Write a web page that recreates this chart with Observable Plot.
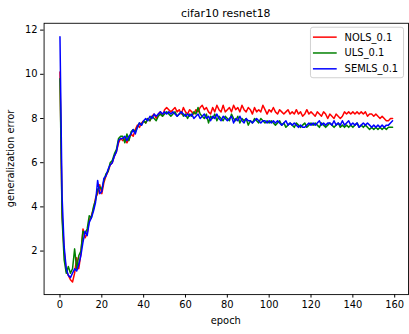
<!DOCTYPE html>
<html>
<head>
<meta charset="utf-8">
<script src="https://cdn.jsdelivr.net/npm/d3@7"></script>
<script src="https://cdn.jsdelivr.net/npm/@observablehq/plot@0.6"></script>
<style>
html, body { margin: 0; padding: 0; overflow: hidden; background: #fff; }
#chart svg { display: block; }
</style>
</head>
<body>
<div id="chart"></div>
<script>
const title = "cifar10 resnet18";
const xLabel = "epoch";
const yLabel = "generalization error";
const seriesNames = ["NOLS_0.1", "ULS_0.1", "SEMLS_0.1"];
const seriesColors = ["#ff0000", "#008000", "#0000ff"];
const xTicks = [0, 20, 40, 60, 80, 100, 120, 140, 160];
const yTicks = [2, 4, 6, 8, 10, 12];

const nols = [10.1,3.7,2.0,1.1,0.9,0.7,0.6,1.0,1.7,1.2,1.9,3.0,2.6,2.8,3.4,3.6,3.9,4.4,4.6,5.0,
4.6,5.1,5.4,5.6,5.9,6.0,6.3,6.5,6.9,7.1,7.0,7.1,6.9,7.1,7.3,7.2,7.5,7.7,7.6,7.8,
7.9,7.8,8.0,7.9,8.1,8.2,8.0,8.2,8.3,8.1,8.4,8.5,8.4,8.3,8.4,8.5,8.3,8.4,8.2,8.5,
8.3,8.2,8.4,8.3,8.2,8.4,8.3,8.5,8.6,8.4,8.5,8.3,8.2,8.5,8.3,8.6,8.4,8.3,8.6,8.3,
8.4,8.5,8.3,8.6,8.4,8.5,8.3,8.6,8.4,8.3,8.5,8.4,8.2,8.5,8.3,8.4,8.3,8.6,8.4,8.2,
8.4,8.3,8.5,8.3,8.2,8.4,8.3,8.2,8.3,8.4,8.2,8.3,8.2,8.4,8.2,8.3,8.1,8.2,8.4,8.2,
8.3,8.2,8.1,8.3,8.2,8.1,8.3,8.2,8.0,8.2,8.1,8.0,8.2,8.1,8.0,8.1,8.3,8.2,8.3,8.2,
8.3,8.2,8.3,8.2,8.3,8.2,8.3,8.1,8.2,8.2,8.1,8.2,8.1,8.0,8.1,8.0,7.9,7.9,8.0,8.0];

const uls = [9.8,3.5,1.6,1.0,1.3,1.0,1.2,2.1,1.2,1.8,2.0,2.9,2.8,3.0,3.6,3.5,4.0,4.3,4.8,4.9,
4.8,5.2,5.5,5.6,6.0,6.1,6.4,6.6,7.1,7.2,7.2,6.9,7.3,7.0,7.4,7.5,7.4,7.6,7.8,7.7,
7.9,7.8,8.0,7.9,8.1,8.0,7.9,8.1,8.2,8.1,8.2,8.3,8.2,8.1,8.2,8.3,8.1,8.2,8.3,8.1,
8.2,8.0,8.2,8.1,8.3,8.2,8.5,8.2,8.1,8.0,8.2,7.8,8.1,8.0,8.2,7.9,8.1,8.0,7.9,8.1,
8.0,7.9,8.2,8.0,7.9,8.1,7.8,8.0,7.9,8.0,7.7,7.9,7.8,8.0,7.9,7.8,8.0,7.9,7.8,7.9,
7.8,7.9,7.8,7.7,7.8,7.9,7.7,7.8,7.6,7.7,7.8,7.7,7.6,7.8,7.7,7.6,7.7,7.8,7.6,7.7,
7.8,7.7,7.8,7.7,7.6,7.8,7.7,7.6,7.7,7.8,7.7,7.6,7.7,7.8,7.6,7.7,7.6,7.7,7.6,7.7,
7.6,7.7,7.8,7.6,7.7,7.6,7.7,7.6,7.5,7.6,7.5,7.6,7.5,7.6,7.5,7.6,7.5,7.6,7.6,7.6];

const semls = [11.7,4.5,2.2,1.2,0.9,0.8,1.0,1.2,1.1,1.4,1.8,2.4,2.9,2.7,3.3,3.5,3.8,4.2,5.2,4.6,
4.7,5.3,5.4,5.7,5.9,6.0,6.3,6.5,7.0,7.1,7.1,7.2,7.0,7.2,7.3,7.5,7.3,7.6,7.8,7.7,
7.9,8.0,7.9,8.1,8.0,8.2,8.1,8.2,8.3,8.2,8.3,8.2,8.3,8.2,8.3,8.2,8.1,8.2,8.3,8.2,
8.1,8.2,8.1,8.2,8.0,8.1,8.2,8.0,8.1,8.2,8.0,8.1,7.9,8.1,8.0,8.2,8.0,7.9,8.1,8.0,
7.9,8.0,8.1,7.8,8.0,7.9,8.1,7.9,7.8,8.0,7.9,7.9,7.8,7.9,8.0,7.9,7.8,7.9,7.9,7.8,
7.9,7.8,7.9,7.8,7.9,7.8,7.7,7.8,7.9,7.7,7.8,7.7,7.8,7.7,7.6,7.7,7.6,7.6,7.7,7.8,
7.7,7.8,7.7,7.8,7.9,7.7,7.8,7.7,7.8,7.8,7.7,7.9,7.7,7.8,7.7,7.9,7.7,7.8,7.9,7.7,
7.8,7.7,7.8,7.6,7.7,7.8,7.7,7.8,7.7,7.6,7.7,7.6,7.7,7.6,7.7,7.6,7.7,7.7,7.8,7.9];

const allSeries = [nols, uls, semls];
const data = allSeries.flatMap((vals, s) => vals.map((v, i) => ({epoch: i, value: v, series: seriesNames[s]})));

const W = 413, H = 334;
const font = "DejaVu Sans, sans-serif";

const chart = Plot.plot({
  width: W,
  height: H,
  marginLeft: 44,
  marginRight: 1,
  marginTop: 23,
  marginBottom: 37,
  style: {fontFamily: font, fontSize: "10px", background: "#fff", color: "#000", overflow: "visible"},
  x: {domain: [-7.6, 166.6]},
  y: {domain: [0.03, 12.31]},
  color: {domain: seriesNames, range: seriesColors},
  marks: [
    Plot.line(data, {x: "epoch", y: "value", z: "series", stroke: "series", strokeWidth: 1.5}),
    Plot.frame({stroke: "#000", strokeWidth: 0.9}),
    Plot.axisX({ticks: xTicks, tickSize: 3.5, tickPadding: 3, label: null, fontSize: 10, stroke: "#000"}),
    Plot.axisY({ticks: yTicks, tickSize: 3.5, tickPadding: 3, label: null, fontSize: 10, stroke: "#000"})
  ]
});

const svg = d3.select(chart);
svg.append("text").attr("x", 228).attr("y", 17).attr("text-anchor", "middle")
  .attr("font-size", 11).attr("font-family", font).attr("fill", "#000").text(title);
svg.append("text").attr("x", 228).attr("y", 327).attr("text-anchor", "middle")
  .attr("font-size", 10).attr("font-family", font).attr("fill", "#000").text(xLabel);
svg.append("text").attr("transform", "translate(14,160) rotate(-90)").attr("text-anchor", "middle")
  .attr("font-size", 10).attr("font-family", font).attr("fill", "#000").text(yLabel);

const lg = svg.append("g");
lg.append("rect").attr("x", 313.5).attr("y", 27.5).attr("width", 94).attr("height", 51).attr("rx", 2.5)
  .attr("fill", "#fff").attr("fill-opacity", 0.8).attr("stroke", "#d0d0d0").attr("stroke-width", 1);
seriesNames.forEach((name, i) => {
  const y = 37.5 + i * 16;
  lg.append("line").attr("x1", 316).attr("x2", 340).attr("y1", y).attr("y2", y)
    .attr("stroke", seriesColors[i]).attr("stroke-width", 1.5);
  lg.append("text").attr("x", 348).attr("y", y).attr("dy", "0.35em").attr("text-anchor", "start")
    .attr("font-size", 10).attr("font-family", font).attr("fill", "#000").text(name);
});

document.getElementById("chart").appendChild(chart);
</script>
</body>
</html>
